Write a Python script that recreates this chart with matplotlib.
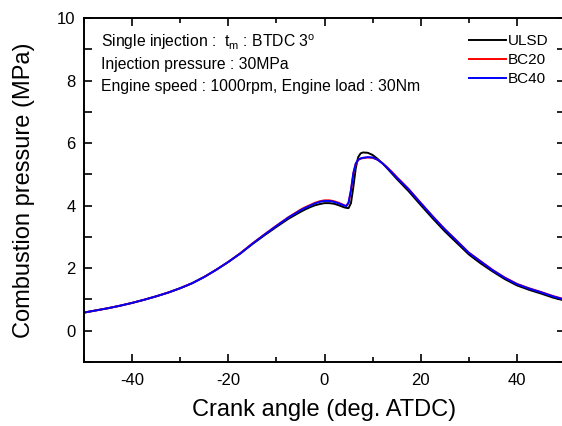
import matplotlib
matplotlib.use('Agg')
import matplotlib.pyplot as plt
from matplotlib.ticker import MultipleLocator

plt.rcParams['font.family'] = ['Liberation Sans', 'DejaVu Sans']
plt.rcParams['mathtext.fontset'] = 'custom'
plt.rcParams['mathtext.rm'] = 'Liberation Sans'
plt.rcParams['axes.unicode_minus'] = False

# Crank angle (deg. ATDC)
crank_angle = [-50, -47.5, -45, -42.5, -40, -37.5, -35, -32.5, -30, -27.5,
               -25, -22.5, -20, -17.5, -15, -12.5, -10, -7.5, -5,
               -4, -3, -2, -1, 0, 1, 2, 3, 4, 4.5, 5, 5.5, 6, 6.5, 7, 7.5,
               8, 9, 10, 11, 12, 13, 14, 15,
               17.5, 20, 22.5, 25, 27.5, 30, 32.5, 35, 37.5, 40, 42.5, 45, 47.5, 50]

# Combustion pressure (MPa)
ulsd = [0.58, 0.65, 0.72, 0.80, 0.89, 0.99, 1.10, 1.22, 1.36, 1.52,
        1.72, 1.95, 2.20, 2.47, 2.77, 3.05, 3.32, 3.58, 3.80,
        3.88, 3.95, 4.01, 4.05, 4.08, 4.08, 4.06, 4.01, 3.95, 3.93, 3.92, 4.08, 4.60, 5.20, 5.55, 5.67,
        5.70, 5.69, 5.62, 5.50, 5.36, 5.20, 5.03, 4.86,
        4.46, 4.02, 3.59, 3.18, 2.81, 2.44, 2.15, 1.89, 1.65, 1.45, 1.31, 1.19, 1.06, 0.96]

bc20 = [0.58, 0.65, 0.72, 0.80, 0.89, 0.99, 1.10, 1.22, 1.36, 1.52,
        1.72, 1.95, 2.20, 2.48, 2.79, 3.08, 3.36, 3.63, 3.87,
        3.95, 4.02, 4.09, 4.14, 4.17, 4.17, 4.14, 4.09, 4.02, 3.99, 4.08, 4.48, 5.02, 5.33, 5.46, 5.50,
        5.52, 5.54, 5.53, 5.47, 5.36, 5.23, 5.08, 4.92,
        4.53, 4.09, 3.66, 3.25, 2.88, 2.50, 2.22, 1.94, 1.70, 1.50, 1.36, 1.24, 1.11, 1.00]

bc40 = [0.58, 0.65, 0.72, 0.80, 0.89, 0.99, 1.10, 1.22, 1.36, 1.52,
        1.72, 1.95, 2.20, 2.47, 2.78, 3.07, 3.35, 3.62, 3.85,
        3.93, 4.00, 4.07, 4.12, 4.15, 4.15, 4.12, 4.07, 4.01, 3.98, 4.10, 4.50, 5.05, 5.35, 5.47, 5.51,
        5.53, 5.55, 5.54, 5.47, 5.36, 5.22, 5.06, 4.90,
        4.52, 4.08, 3.65, 3.24, 2.87, 2.49, 2.21, 1.93, 1.69, 1.49, 1.35, 1.23, 1.10, 0.99]

fig = plt.figure(figsize=(5.62, 4.26), dpi=100)
# right spine sits just past the image edge, like in the original
ax = fig.add_axes([84 / 562, 1 - 362 / 426, (565 - 84) / 562, (362 - 18) / 426])

ax.plot(crank_angle, ulsd, color='black', lw=1.4, label='ULSD')
ax.plot(crank_angle, bc20, color='red', lw=1.4, label='BC20')
ax.plot(crank_angle, bc40, color='blue', lw=1.4, label='BC40')

ax.set_xlim(-50, 50)
ax.set_ylim(-1, 10)
ax.xaxis.set_minor_locator(MultipleLocator(10))
ax.yaxis.set_minor_locator(MultipleLocator(1))
ax.set_xticks([-40, -20, 0, 20, 40])
ax.set_yticks([0, 2, 4, 6, 8, 10])

for s in ax.spines.values():
    s.set_linewidth(1.4)
ax.tick_params(which='both', direction='in', top=True, right=True, width=1.2,
               labelsize=12)
ax.tick_params(axis='x', which='major', length=6, pad=8)
ax.tick_params(axis='x', which='minor', length=3.5)
ax.tick_params(axis='y', which='both', length=6, pad=6)

ax.set_xlabel('Crank angle (deg. ATDC)', fontsize=17, labelpad=8)
ax.set_ylabel('Combustion pressure (MPa)', fontsize=17, labelpad=16)

ax.text(-46.5, 9.22, r'Single injection :  t$_\mathrm{m}$ : BTDC 3$^\mathrm{o}$',
        fontsize=11.3, ha='left', va='center')
ax.text(-46.5, 8.5, 'Injection pressure : 30MPa', fontsize=11.3, ha='left', va='center')
ax.text(-46.5, 7.8, 'Engine speed : 1000rpm, Engine load : 30Nm',
        fontsize=11.3, ha='left', va='center')

ax.legend(loc='upper left', bbox_to_anchor=(469 / 562, 1 - 34 / 426),
          bbox_transform=fig.transFigure, frameon=False, fontsize=11,
          handlelength=2.4, handletextpad=0.15, labelspacing=0.33,
          borderpad=0, borderaxespad=0)

fig.savefig('out.png', dpi=100)
